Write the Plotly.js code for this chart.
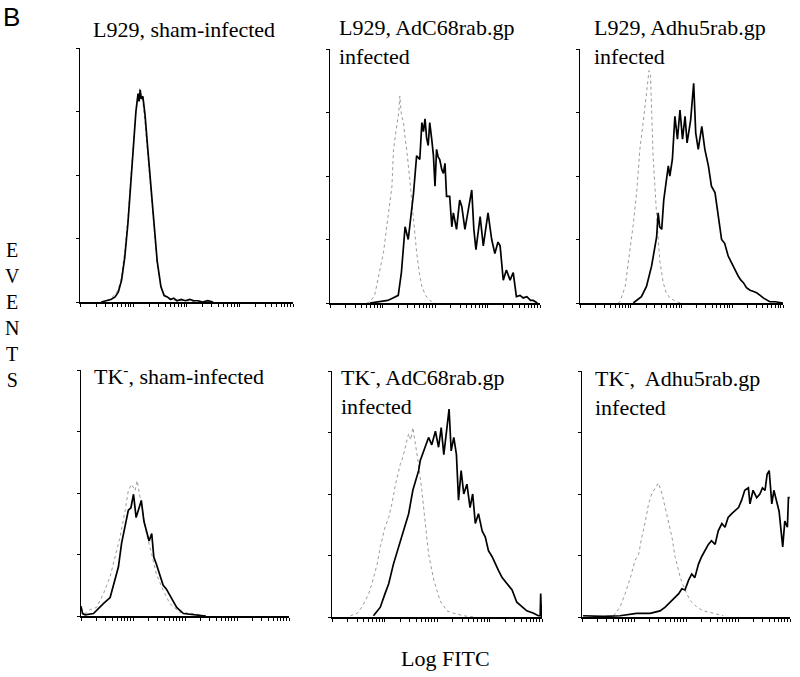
<!DOCTYPE html>
<html>
<head>
<meta charset="utf-8">
<script src="https://cdn.plot.ly/plotly-3.0.1.min.js"></script>
<style>html,body{margin:0;padding:0;background:#fff;}#chart{width:800px;height:677px;}</style>
</head>
<body>
<div id="chart"></div>
<script>
// Panel titles
const panelTitles = [
  "L929, sham-infected",
  "L929, AdC68rab.gp<br>infected",
  "L929, Adhu5rab.gp<br>infected",
  "TK<sup>-</sup>, sham-infected",
  "TK<sup>-</sup>, AdC68rab.gp<br>infected",
  "TK<sup>-</sup>,  Adhu5rab.gp<br>infected"
];
const yAxisLabel = "E<br>V<br>E<br>N<br>T<br>S";
const xAxisLabel = "Log FITC";
const figLabel = "B";

// x values are log10(FITC); y values are events
// Panel 1: L929, sham-infected
const p1GreyX = [0.40,0.50,0.58,0.66,0.72,0.78,0.84,0.90,0.95,1.00,1.05,1.09,1.12,1.15,1.18,1.22,1.27,1.33,1.39,1.45,1.52,1.60,1.70,1.85,2.00,2.20,2.40];
const p1GreyY = [0,1,3,6,10,20,40,66,95,122,150,160,168,163,158,142,118,88,58,30,12,4,2,1,1,0,0];
const p1BlackX = [0.40,0.50,0.58,0.66,0.72,0.78,0.84,0.90,0.95,1.00,1.05,1.09,1.11,1.13,1.15,1.18,1.22,1.27,1.33,1.39,1.45,1.52,1.58,1.64,1.70,1.76,1.82,1.90,1.98,2.06,2.14,2.22,2.30,2.40,2.50];
const p1BlackY = [0,1,2,4,8,17,35,62,92,118,150,164,158,167,160,162,148,122,92,62,32,12,5,4,2,3,1,2,1,2,1,1,0,1,0];

// Panel 2: L929, AdC68rab.gp infected
const p2GreyX = [0.70,0.76,0.85,0.95,1.02,1.08,1.14,1.18,1.21,1.25,1.28,1.31,1.33,1.36,1.40,1.43,1.46,1.52,1.59,1.65,1.70,1.75,1.82,1.90,2.00];
const p2GreyY = [0,1,6,26,40,60,81,92,121,135,142,150,163,148,142,130,121,97,66,40,24,13,6,2,0];
const p2BlackX = [0.76,0.95,1.10,1.20,1.30,1.36,1.43,1.49,1.55,1.59,1.65,1.71,1.75,1.78,1.81,1.84,1.87,1.90,1.94,1.97,2.00,2.03,2.06,2.09,2.13,2.16,2.19,2.22,2.28,2.32,2.35,2.41,2.47,2.51,2.57,2.63,2.70,2.74,2.78,2.82,2.86,2.92,2.97,3.01,3.08,3.14,3.20,3.24,3.30,3.36,3.43,3.49,3.55,3.62,3.68,3.75,3.82,3.87,3.95];
const p2BlackY = [0,1,2,4,6,24,60,50,71,86,116,113,142,135,145,130,124,142,128,116,92,121,115,113,105,102,110,84,84,60,71,58,81,76,58,73,89,58,42,55,68,45,60,71,50,39,48,45,18,26,18,24,5,6,4,5,2,2,0];

// Panel 3: L929, Adhu5rab.gp infected
const p3GreyX = [0.75,0.79,0.89,0.98,1.05,1.12,1.18,1.25,1.31,1.34,1.36,1.39,1.44,1.51,1.57,1.64,1.70,1.77,1.90,2.00];
const p3GreyY = [0,1,13,39,62,89,121,144,166,172,183,179,116,69,34,16,8,4,1,0];
const p3BlackX = [1.05,1.21,1.31,1.41,1.51,1.54,1.57,1.61,1.65,1.71,1.74,1.77,1.82,1.87,1.92,1.97,2.02,2.07,2.11,2.18,2.24,2.28,2.33,2.40,2.46,2.53,2.59,2.66,2.72,2.79,2.85,2.92,2.97,3.02,3.07,3.12,3.17,3.22,3.28,3.35,3.42,3.48,3.55,3.61,3.74,3.85,4.00];
const p3BlackY = [0,5,13,29,52,71,60,58,81,97,108,100,113,147,129,152,129,147,126,144,173,134,121,139,121,108,92,87,69,50,47,37,33,29,24,21,18,16,12,10,9,8,6,4,1,1,0];

// Panel 4: TK-, sham-infected
const p4GreyX = [0.00,0.03,0.08,0.17,0.30,0.43,0.56,0.65,0.75,0.85,0.91,0.97,1.04,1.08,1.16,1.26,1.36,1.45,1.58,1.71,1.90,2.16,2.40];
const p4GreyY = [6,3,2,5,7,18,32,48,64,86,102,107,102,110,91,67,50,34,21,10,3,2,0];
const p4BlackX = [0.00,0.03,0.08,0.24,0.43,0.56,0.65,0.72,0.78,0.85,0.91,0.96,1.01,1.06,1.11,1.16,1.21,1.26,1.31,1.36,1.40,1.45,1.52,1.58,1.64,1.74,1.84,1.97,2.16,2.40];
const p4BlackY = [8,2,1,2,10,15,29,40,59,75,86,88,99,80,88,94,77,69,61,67,48,42,32,25,22,15,7,2,1,0];

// Panel 5: TK-, AdC68rab.gp infected
const p5GreyX = [0.35,0.48,0.57,0.70,0.76,0.86,0.92,1.01,1.08,1.14,1.21,1.30,1.35,1.40,1.46,1.50,1.54,1.59,1.65,1.71,1.78,1.84,1.94,2.06,2.19,2.32,2.51,2.70];
const p5GreyY = [1,3,8,19,27,43,57,73,81,92,108,124,130,138,149,144,154,140,124,103,76,51,30,13,5,3,1,0];
const p5BlackX = [0.79,0.92,1.01,1.08,1.17,1.27,1.36,1.46,1.54,1.59,1.65,1.68,1.75,1.80,1.84,1.90,1.97,2.03,2.08,2.13,2.18,2.23,2.27,2.32,2.37,2.41,2.46,2.51,2.57,2.63,2.68,2.73,2.79,2.86,2.92,2.98,3.05,3.11,3.17,3.24,3.33,3.43,3.52,3.62,3.71,3.84,3.93,3.965,3.975,3.99];
const p5BlackY = [1,8,19,27,43,57,70,84,103,111,119,127,135,140,146,140,151,138,154,132,151,169,135,146,132,95,119,100,108,89,100,76,84,70,65,54,49,43,38,32,27,22,12,8,5,3,1,1,19,0];

// Panel 6: TK-, Adhu5rab.gp infected
const p6GreyX = [0.61,0.73,0.83,0.93,1.02,1.09,1.15,1.22,1.28,1.34,1.41,1.47,1.54,1.60,1.66,1.73,1.79,1.89,1.98,2.08,2.21,2.33,2.53,2.72];
const p6GreyY = [1,8,19,32,46,51,65,78,92,100,105,109,100,89,78,65,49,32,22,13.5,8,5,3,1];
const p6BlackX = [0.02,0.41,0.73,1.05,1.31,1.50,1.60,1.69,1.79,1.86,1.92,1.98,2.05,2.11,2.17,2.24,2.30,2.37,2.43,2.49,2.56,2.62,2.69,2.75,2.81,2.88,2.94,3.01,3.07,3.13,3.20,3.23,3.29,3.36,3.42,3.47,3.52,3.56,3.60,3.65,3.69,3.74,3.79,3.86,3.90,3.95,3.97,3.995];
const p6BlackY = [1,0.5,1,3,3,5,8,12,16,19,23,22,30,35,32,43,49,54,59,62,59,70,76,73,81,84,86,89,95,103,105,92,103,97,100,105,103,116,119,92,103,95,86,57,78,73,97,97];

const greyX = [p1GreyX,p2GreyX,p3GreyX,p4GreyX,p5GreyX,p6GreyX];
const greyY = [p1GreyY,p2GreyY,p3GreyY,p4GreyY,p5GreyY,p6GreyY];
const blackX = [p1BlackX,p2BlackX,p3BlackX,p4BlackX,p5BlackX,p6BlackX];
const blackY = [p1BlackY,p2BlackY,p3BlackY,p4BlackY,p5BlackY,p6BlackY];

// Layout geometry (pixels)
const W = 800, H = 677;
const xPix = [[80,293],[330,540],[580,783],[81,289],[332,542],[582,790]];
const yPix = [[48,302],[49,303],[49,303],[370,616],[371,617],[371,617]];
const titleLeft = [92,338,593,93,340,594];
const titleTop = [16,14,14,360,361,362];
const serif = '"Liberation Serif", "Times New Roman", serif';

const toLin = v => Math.pow(10, v);
const traces = [];
const layout = {
  width: W, height: H,
  margin: {l:0, r:0, t:0, b:0},
  paper_bgcolor: '#fff', plot_bgcolor: '#fff',
  showlegend: false,
  font: {family: serif, color: '#000', size: 20},
  annotations: []
};

for (let i = 0; i < 6; i++) {
  const n = i + 1;
  const xa = n === 1 ? 'x' : 'x' + n;
  const ya = n === 1 ? 'y' : 'y' + n;
  traces.push({
    type: 'scatter', mode: 'lines', xaxis: xa, yaxis: ya,
    x: greyX[i].map(toLin), y: greyY[i],
    line: {color: '#9a9a9a', width: 1, dash: 'dot'}, hoverinfo: 'skip'
  });
  traces.push({
    type: 'scatter', mode: 'lines', xaxis: xa, yaxis: ya,
    x: blackX[i].map(toLin), y: blackY[i],
    line: {color: '#000', width: 1.7}, hoverinfo: 'skip'
  });
  const xk = n === 1 ? 'xaxis' : 'xaxis' + n;
  const yk = n === 1 ? 'yaxis' : 'yaxis' + n;
  layout[xk] = {
    domain: [xPix[i][0]/W, xPix[i][1]/W],
    anchor: ya, type: 'log', range: [0, 4],
    showgrid: false, zeroline: false, showline: true, linecolor: '#000', linewidth: 1.5,
    ticks: 'outside', ticklen: 3, tickwidth: 1, tickcolor: '#000', dtick: 'D1',
    showticklabels: false, fixedrange: true
  };
  layout[yk] = {
    domain: [1 - yPix[i][1]/H, 1 - yPix[i][0]/H],
    anchor: xa, range: [0, 200],
    showgrid: false, zeroline: false, showline: true, linecolor: '#000', linewidth: 1.5,
    ticks: 'outside', ticklen: 3, tickwidth: 1, tickcolor: '#000', dtick: 50,
    showticklabels: false, fixedrange: true
  };
  layout.annotations.push({
    xref: 'paper', yref: 'paper', x: titleLeft[i]/W, y: 1 - titleTop[i]/H,
    xanchor: 'left', yanchor: 'top', align: 'left', showarrow: false,
    text: panelTitles[i], borderpad: 0,
    font: {family: serif, size: 22, color: '#000'}
  });
}

layout.annotations.push({
  xref: 'paper', yref: 'paper', x: 12/W, y: 1 - 315/H, xanchor: 'center', yanchor: 'middle',
  showarrow: false, text: yAxisLabel, align: 'center', borderpad: 0,
  font: {family: serif, size: 20, color: '#000'}
});
layout.annotations.push({
  xref: 'paper', yref: 'paper', x: 445/W, y: 1 - 658/H, xanchor: 'center', yanchor: 'middle',
  showarrow: false, text: xAxisLabel, borderpad: 0,
  font: {family: serif, size: 22, color: '#000'}
});
layout.annotations.push({
  xref: 'paper', yref: 'paper', x: 2/W, y: 1 - 1/H, xanchor: 'left', yanchor: 'top',
  showarrow: false, text: figLabel, borderpad: 0,
  font: {family: '"Liberation Sans", Arial, sans-serif', size: 26, color: '#000'}
});

Plotly.newPlot('chart', traces, layout, {staticPlot: true, displayModeBar: false});
</script>
</body>
</html>
